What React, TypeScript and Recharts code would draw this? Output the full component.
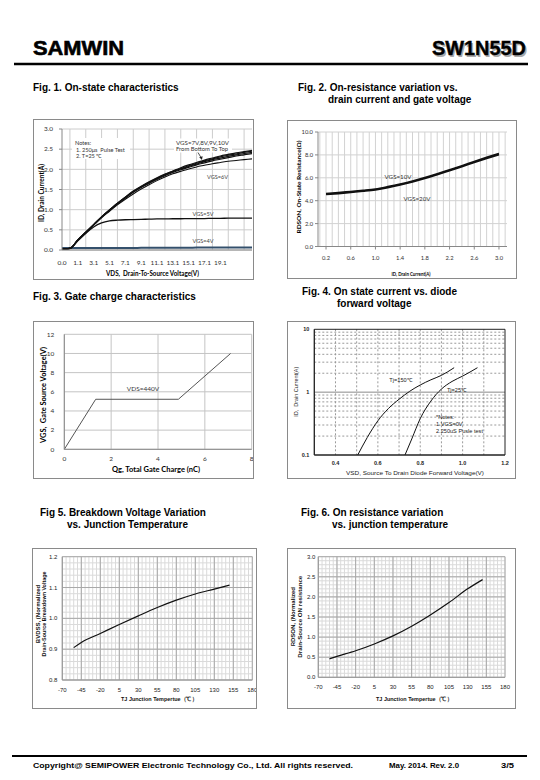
import React from 'react';
import { LineChart, Line, XAxis, YAxis, CartesianGrid, ReferenceArea } from 'recharts';

const ARIAL = '"Liberation Sans", Arial, Helvetica, sans-serif';
const CAL = 'Lato, "Liberation Sans", sans-serif';

// ---------- Fig 1: On-state characteristics ----------
const vdsCategories = ['0.0', '0.6', '1.1', '2.1', '3.1', '4.1', '5.1', '6.1', '7.1', '8.1', '9.1', '10.1', '11.1', '12.1', '13.1', '14.1', '15.1', '16.1', '17.1', '18.1', '19.1', '20.1', '21.1', '22.1', '23.1'];
const vdsTickLabels = ['0.0', '1.1', '3.1', '5.1', '7.1', '9.1', '11.1', '13.1', '15.1', '17.1', '19.1'];
const vdsGridCategories = ['0.6', '2.1', '4.1', '6.1', '8.1', '10.1', '12.1', '14.1', '16.1', '18.1', '20.1', '22.1'];
const idTicks = [0, 0.5, 1.0, 1.5, 2.0, 2.5, 3.0];
const idVgs10 = [0.02, 0.04, 0.25, 0.44, 0.63, 0.82, 0.99, 1.16, 1.31, 1.46, 1.58, 1.69, 1.79, 1.88, 1.96, 2.04, 2.11, 2.17, 2.23, 2.28, 2.33, 2.37, 2.41, 2.44, 2.47];
const idVgs9 = [0.02, 0.04, 0.25, 0.44, 0.63, 0.82, 0.99, 1.16, 1.31, 1.45, 1.57, 1.68, 1.78, 1.87, 1.95, 2.02, 2.09, 2.15, 2.21, 2.26, 2.31, 2.35, 2.38, 2.42, 2.45];
const idVgs8 = [0.02, 0.04, 0.25, 0.44, 0.63, 0.82, 0.99, 1.15, 1.3, 1.44, 1.56, 1.67, 1.77, 1.86, 1.94, 2.01, 2.07, 2.13, 2.19, 2.24, 2.28, 2.32, 2.36, 2.39, 2.42];
const idVgs7 = [0.02, 0.04, 0.24, 0.43, 0.62, 0.81, 0.98, 1.14, 1.29, 1.43, 1.55, 1.65, 1.75, 1.84, 1.92, 1.99, 2.05, 2.11, 2.16, 2.21, 2.25, 2.29, 2.33, 2.36, 2.39];
const idVgs6 = [0.02, 0.04, 0.24, 0.43, 0.62, 0.8, 0.96, 1.12, 1.26, 1.39, 1.51, 1.62, 1.72, 1.81, 1.89, 1.95, 2.01, 2.06, 2.1, 2.14, 2.17, 2.2, 2.22, 2.24, 2.26];
const idVgs5 = [0.02, 0.04, 0.23, 0.41, 0.57, 0.67, 0.72, 0.74, 0.75, 0.755, 0.76, 0.765, 0.77, 0.77, 0.775, 0.775, 0.78, 0.78, 0.78, 0.785, 0.785, 0.79, 0.79, 0.79, 0.79];
const idVgs4 = [0.05, 0.05, 0.05, 0.05, 0.05, 0.05, 0.05, 0.05, 0.05, 0.05, 0.055, 0.055, 0.055, 0.055, 0.055, 0.055, 0.055, 0.06, 0.06, 0.06, 0.06, 0.06, 0.06, 0.06, 0.06];

// ---------- Fig 2: On-resistance vs drain current ----------
const drainCurrent = [0.2, 0.4, 0.6, 0.8, 1.0, 1.2, 1.4, 1.6, 1.8, 2.0, 2.2, 2.4, 2.6, 2.8, 3.0];
const rdsVgs10 = [4.62, 4.7, 4.8, 4.9, 5.02, 5.22, 5.45, 5.72, 6.02, 6.35, 6.7, 7.05, 7.42, 7.78, 8.12];
const rdsVgs20 = [4.55, 4.63, 4.73, 4.83, 4.95, 5.14, 5.38, 5.65, 5.95, 6.28, 6.63, 6.98, 7.35, 7.7, 8.03];
const fig2XTicks = [0.2, 0.6, 1.0, 1.4, 1.8, 2.2, 2.6, 3.0];
const fig2YTicks = [0, 2, 4, 6, 8, 10];

// ---------- Fig 3: Gate charge ----------
const gateCharge = [0, 1.34, 4.87, 7.1];
const gateVoltage = [0, 5.22, 5.22, 10.0];
const fig3XTicks = [0, 2, 4, 6, 8];
const fig3YTicks = [0, 2, 4, 6, 8, 10, 12];

// ---------- Fig 4: Diode forward voltage ----------
const vsd150 = [0.505, 0.55, 0.6, 0.65, 0.7, 0.75, 0.8, 0.85, 0.9, 0.96];
const isd150 = [0.1, 0.19, 0.35, 0.55, 0.77, 1.03, 1.3, 1.57, 1.85, 2.45];
const vsd25 = [0.728, 0.76, 0.8, 0.85, 0.9, 0.95, 1.0, 1.07];
const isd25 = [0.1, 0.18, 0.38, 0.72, 1.12, 1.48, 1.8, 2.45];
const fig4XTicks = [0.4, 0.6, 0.8, 1.0, 1.2];
const fig4YTicks = [0.1, 1, 10];
const fig4VGrid = [0.4, 0.5, 0.6, 0.7, 0.8, 0.9, 1.0, 1.1];
const fig4HGrid = [0.2, 0.3, 0.4, 0.5, 0.6, 0.7, 0.8, 0.9, 2, 3, 4, 5, 6, 7, 8, 9];

// ---------- Fig 5 / Fig 6: vs junction temperature ----------
const tjTicks = [-70, -45, -20, 5, 30, 55, 80, 105, 130, 155, 180];
const tjBv = [-55, -45, -20, 5, 30, 55, 80, 105, 130, 150];
const bvdssNorm = [0.905, 0.922, 0.951, 0.98, 1.008, 1.035, 1.059, 1.079, 1.095, 1.108];
const bvTicks = [0.8, 0.9, 1.0, 1.1, 1.2];
const tjRds = [-55, -45, -20, 5, 30, 55, 80, 105, 130, 150];
const rdsonNorm = [0.46, 0.52, 0.66, 0.83, 1.03, 1.27, 1.55, 1.86, 2.2, 2.43];
const rdsTicks = [0, 0.5, 1.0, 1.5, 2.0, 2.5, 3.0];

// tables built from the arrays
const fig1Data = vdsCategories.map((v, i) => ({
  vds: v, v10: idVgs10[i], v9: idVgs9[i], v8: idVgs8[i], v7: idVgs7[i], v6: idVgs6[i], v5: idVgs5[i], v4: idVgs4[i],
}));
const fig2Data = drainCurrent.map((x, i) => ({ id: x, r10: rdsVgs10[i], r20: rdsVgs20[i] }));
const fig3Data = gateCharge.map((q, i) => ({ qg: q, vgs: gateVoltage[i] }));
const fig4Data = [
  ...vsd150.map((v, i) => ({ vsd: v, t150: isd150[i] } as any)),
  ...vsd25.map((v, i) => ({ vsd: v, t25: isd25[i] } as any)),
].sort((a, b) => a.vsd - b.vsd);
const fig5Data = tjBv.map((t, i) => ({ tj: t, bv: bvdssNorm[i] }));
const fig6Data = tjRds.map((t, i) => ({ tj: t, r: rdsonNorm[i] }));

const steps = (from: number, to: number, step: number, digits: number) => {
  const out: number[] = [];
  for (let v = from; v <= to + step / 2; v += step) out.push(Number(v.toFixed(digits)));
  return out;
};
const fig2VGrid = steps(0.1, 3.1, 0.1, 1);
const tjMinor = steps(-70, 180, 5, 0);
const bvMinor = steps(0.8, 1.2, 0.02, 2);
const rdsMinor = steps(0, 3, 0.1, 1);

// grid line generators: map data values through the axis' own scale
const applyScale = (axis: any, v: any): number => {
  const s = axis && axis.scale;
  if (!s) return NaN;
  const r = typeof s === 'function' ? s(v) : typeof s.map === 'function' ? s.map(v) : NaN;
  const bw = typeof s.bandwidth === 'function' ? s.bandwidth() / 2 : 0;
  return Number(r) + bw;
};
const vGen = (vals: any[]) => ({ xAxis }: any) => vals.map((v) => applyScale(xAxis, v)).filter((n) => Number.isFinite(n));
const hGen = (vals: any[]) => ({ yAxis }: any) => vals.map((v) => applyScale(yAxis, v)).filter((n) => Number.isFinite(n));

const box = (x: number, y: number, w: number, h: number): React.CSSProperties => ({
  position: 'absolute', left: x, top: y, width: w, height: h,
});

type TProps = {
  x: number; y: number; s: number; text: string; anchor?: 'start' | 'middle' | 'end';
  bold?: boolean; fam?: string; fill?: string; rot?: boolean; len?: number;
};
const T = ({ x, y, s, text, anchor = 'start', bold = false, fam = ARIAL, fill = '#000', rot = false, len }: TProps) => (
  <text
    x={rot ? 0 : x}
    y={rot ? 0 : y}
    transform={rot ? `translate(${x},${y}) rotate(-90)` : undefined}
    fontSize={s}
    fontFamily={fam}
    fontWeight={bold ? 'bold' : 'normal'}
    fill={fill}
    textAnchor={rot ? 'middle' : anchor}
    dominantBaseline="central"
    style={{ whiteSpace: 'pre' }}
    textLength={len}
    lengthAdjust={len ? 'spacingAndGlyphs' : undefined}
  >
    {text}
  </text>
);

const calTick = (s: number) => ({ fontSize: s, fill: '#333', fontFamily: CAL });
const arialTick = (s: number, bold = false) => ({ fontSize: s, fill: '#222', fontFamily: ARIAL, fontWeight: bold ? 'bold' : 'normal' });

export default function App() {
  return (
    <div style={{ position: 'absolute', left: 0, top: 0, width: 540, height: 780, background: '#fff', overflow: 'hidden' }}>
      {/* Fig 1 */}
      <div style={box(34, 119, 220, 160)}>
        <LineChart width={220} height={160} data={fig1Data} margin={{ top: 10, right: 2, left: 0, bottom: 0 }}>
          <CartesianGrid verticalCoordinatesGenerator={vGen(vdsGridCategories)}
            horizontalCoordinatesGenerator={hGen(idTicks)} stroke="#cccccc" />
          <XAxis dataKey="vds" type="category" interval={1} height={29} tick={calTick(6.5)}
            tickFormatter={(v: string) => (vdsTickLabels.includes(v) ? v : '')}
            tickLine={false} tickSize={4} tickMargin={6.5} axisLine={{ stroke: '#888' }} />
          <YAxis type="number" domain={[0, 3]} ticks={idTicks} interval={0} width={28} tick={calTick(6.5)}
            tickFormatter={(v: number) => v.toFixed(1)} tickSize={3} tickMargin={6}
            tickLine={{ stroke: '#888' }} axisLine={{ stroke: '#888' }} />
          <Line dataKey="v4" type="monotone" stroke="#34506c" strokeWidth={2} dot={false} isAnimationActive={false} />
          <Line dataKey="v5" type="monotone" stroke="#111" strokeWidth={1.3} dot={false} isAnimationActive={false} />
          <Line dataKey="v6" type="monotone" stroke="#111" strokeWidth={1.1} dot={false} isAnimationActive={false} />
          <Line dataKey="v7" type="monotone" stroke="#111" strokeWidth={1.2} dot={false} isAnimationActive={false} />
          <Line dataKey="v8" type="monotone" stroke="#111" strokeWidth={1.2} dot={false} isAnimationActive={false} />
          <Line dataKey="v9" type="monotone" stroke="#111" strokeWidth={1.2} dot={false} isAnimationActive={false} />
          <Line dataKey="v10" type="monotone" stroke="#111" strokeWidth={1.2} dot={false} isAnimationActive={false} />
        </LineChart>
      </div>

      {/* Fig 2 */}
      <div style={box(287, 120, 230, 159)}>
        <LineChart width={230} height={159} data={fig2Data} margin={{ top: 12, right: 10, left: 0, bottom: 0 }}>
          <CartesianGrid verticalCoordinatesGenerator={vGen(fig2VGrid)}
            horizontalCoordinatesGenerator={hGen(fig2YTicks)} stroke="#d2d2d2" />
          <XAxis dataKey="id" type="number" domain={[0.07, 3.13]} ticks={fig2XTicks} interval={0} height={32.5}
            tick={calTick(5.8)} tickFormatter={(v: number) => v.toFixed(1)} tickSize={3} tickMargin={6}
            tickLine={{ stroke: '#888' }} axisLine={{ stroke: '#888' }} allowDataOverflow />
          <YAxis type="number" domain={[0, 10]} ticks={fig2YTicks} interval={0} width={31} tick={calTick(5.8)}
            tickFormatter={(v: number) => v.toFixed(1)} tickSize={3} tickMargin={2}
            tickLine={{ stroke: '#888' }} axisLine={{ stroke: '#888' }} />
          <Line dataKey="r20" type="monotone" stroke="#111" strokeWidth={1.8} dot={false} isAnimationActive={false} />
          <Line dataKey="r10" type="monotone" stroke="#111" strokeWidth={1.8} dot={false} isAnimationActive={false} />
        </LineChart>
      </div>

      {/* Fig 3 */}
      <div style={box(33, 321, 220, 158)}>
        <LineChart width={220} height={158} data={fig3Data} margin={{ top: 13.3, right: 1.3, left: 0, bottom: 0 }}>
          <CartesianGrid verticalCoordinatesGenerator={vGen(fig3XTicks)}
            horizontalCoordinatesGenerator={hGen(fig3YTicks)} stroke="#c4c4c4" />
          <XAxis dataKey="qg" type="number" domain={[0, 8]} ticks={fig3XTicks} interval={0} height={29.7}
            tick={calTick(6.5)} tickLine={false} tickSize={0} tickMargin={7.5} axisLine={{ stroke: '#888' }} />
          <YAxis type="number" domain={[0, 12]} ticks={fig3YTicks} interval={0} width={31.3} tick={calTick(6.5)}
            tickLine={false} tickSize={0} tickMargin={10} axisLine={{ stroke: '#888' }} />
          <Line dataKey="vgs" type="linear" stroke="#555" strokeWidth={1} dot={false} isAnimationActive={false} />
        </LineChart>
      </div>

      {/* Fig 4 */}
      <div style={box(287, 321, 229, 158)}>
        <LineChart width={229} height={158} data={fig4Data} margin={{ top: 8.3, right: 11, left: 0, bottom: 0 }}>
          <CartesianGrid verticalCoordinatesGenerator={vGen(fig4VGrid)}
            horizontalCoordinatesGenerator={hGen(fig4HGrid)} stroke="#9a9a9a" strokeDasharray="2 2" />
          <CartesianGrid vertical={false} horizontalCoordinatesGenerator={hGen([1])} stroke="#8a8a8a" />
          <XAxis dataKey="vsd" type="number" domain={[0.3, 1.2]} ticks={fig4XTicks} interval={0} height={24}
            tick={arialTick(5.5, true)} tickFormatter={(v: number) => v.toFixed(1)} tickLine={false}
            tickSize={0} tickMargin={5.7} axisLine={{ stroke: '#222' }} allowDataOverflow />
          <YAxis type="number" scale="log" domain={[0.1, 10]} ticks={fig4YTicks} interval={0} width={27.3}
            tick={arialTick(5.5, true)} tickFormatter={(v: number) => String(v)} tickLine={false}
            tickSize={0} tickMargin={5} axisLine={{ stroke: '#222' }} allowDataOverflow />
          <ReferenceArea x1={0.3} x2={1.2} y1={0.1} y2={10} fill="none" stroke="#222" strokeWidth={1} ifOverflow="visible" />
          <Line dataKey="t150" type="monotone" connectNulls stroke="#111" strokeWidth={1} dot={false} isAnimationActive={false} />
          <Line dataKey="t25" type="monotone" connectNulls stroke="#111" strokeWidth={1} dot={false} isAnimationActive={false} />
        </LineChart>
      </div>

      {/* Fig 5 */}
      <div style={box(32, 548, 225, 161)}>
        <LineChart width={225} height={161} data={fig5Data} margin={{ top: 8.7, right: 4.7, left: 0, bottom: 0 }}>
          <CartesianGrid verticalCoordinatesGenerator={vGen(tjMinor)}
            horizontalCoordinatesGenerator={hGen(bvMinor)} stroke="#dadada" />
          <CartesianGrid verticalCoordinatesGenerator={vGen(tjTicks)}
            horizontalCoordinatesGenerator={hGen(bvTicks)} stroke="#a8a8a8" />
          <XAxis dataKey="tj" type="number" domain={[-70, 180]} ticks={tjTicks} interval={0} height={29}
            tick={arialTick(6)} tickLine={false} tickSize={0} tickMargin={7.5} axisLine={{ stroke: '#999' }} />
          <YAxis type="number" domain={[0.8, 1.2]} ticks={bvTicks} interval={0} width={30.3} tick={arialTick(6)}
            tickFormatter={(v: number) => v.toFixed(1)} tickLine={false} tickSize={0} tickMargin={5}
            axisLine={{ stroke: '#999' }} />
          <Line dataKey="bv" type="monotone" stroke="#111" strokeWidth={1.2} dot={false} isAnimationActive={false} />
        </LineChart>
      </div>

      {/* Fig 6 */}
      <div style={box(287, 548, 229, 161)}>
        <LineChart width={229} height={161} data={fig6Data} margin={{ top: 8.7, right: 11, left: 0, bottom: 0 }}>
          <CartesianGrid verticalCoordinatesGenerator={vGen(tjMinor)}
            horizontalCoordinatesGenerator={hGen(rdsMinor)} stroke="#dadada" />
          <CartesianGrid verticalCoordinatesGenerator={vGen(tjTicks)}
            horizontalCoordinatesGenerator={hGen(rdsTicks)} stroke="#a8a8a8" />
          <XAxis dataKey="tj" type="number" domain={[-70, 180]} ticks={tjTicks} interval={0} height={31.7}
            tick={arialTick(6)} tickLine={false} tickSize={0} tickMargin={7} axisLine={{ stroke: '#999' }} />
          <YAxis type="number" domain={[0, 3]} ticks={rdsTicks} interval={0} width={31.3} tick={arialTick(6)}
            tickFormatter={(v: number) => v.toFixed(1)} tickLine={false} tickSize={0} tickMargin={3}
            axisLine={{ stroke: '#999' }} />
          <Line dataKey="r" type="monotone" stroke="#111" strokeWidth={1.2} dot={false} isAnimationActive={false} />
        </LineChart>
      </div>

      {/* Overlay: page text, frames, annotations */}
      <svg width={540} height={780} style={{ position: 'absolute', left: 0, top: 0, pointerEvents: 'none' }}>
        {/* header */}
        <text x={33} y={55} fontSize={20} fontFamily={ARIAL} fontWeight="bold" stroke="#000" strokeWidth={0.6}
          textLength={91} lengthAdjust="spacingAndGlyphs">SAMWIN</text>
        <text x={433.5} y={56.5} fontSize={21} fontFamily={ARIAL} fontWeight="bold" fill="#aaa"
          textLength={94} lengthAdjust="spacingAndGlyphs">SW1N55D</text>
        <text x={432} y={55} fontSize={21} fontFamily={ARIAL} fontWeight="bold" stroke="#000" strokeWidth={0.4}
          textLength={94} lengthAdjust="spacingAndGlyphs">SW1N55D</text>
        <line x1={14} y1={64} x2={528} y2={64} stroke="#000" strokeWidth={2.4} />

        {/* titles */}
        <T x={33} y={87} s={10} bold text="Fig. 1. On-state characteristics" />
        <T x={298} y={87} s={10} bold text="Fig. 2. On-resistance variation vs." />
        <T x={328} y={99} s={10} bold text="drain current and gate voltage" />
        <T x={33} y={296.5} s={10} bold text="Fig. 3. Gate charge characteristics" />
        <T x={302} y={291.5} s={10} bold text="Fig. 4. On state current vs. diode" />
        <T x={337} y={303.5} s={10} bold text="forward voltage" />
        <T x={40} y={512.5} s={10} bold text="Fig 5. Breakdown Voltage Variation" />
        <T x={67} y={524.5} s={10} bold text="vs. Junction Temperature" />
        <T x={301} y={512.5} s={10} bold text="Fig. 6. On resistance variation" />
        <T x={332} y={524.5} s={10} bold text="vs. junction temperature" />

        {/* frames */}
        <rect x={33.5} y={119.5} width={220} height={160} fill="none" stroke="#8a8a8a" />
        <rect x={287.5} y={120.5} width={229} height={158} fill="none" stroke="#8a8a8a" />
        <rect x={33.5} y={321.5} width={220} height={157} fill="none" stroke="#8a8a8a" />
        <rect x={287.5} y={321.5} width={228} height={157} fill="none" stroke="#8a8a8a" />
        <rect x={32.5} y={548.5} width={224} height={160} fill="none" stroke="#8a8a8a" />
        <rect x={287.5} y={548.5} width={228} height={160} fill="none" stroke="#8a8a8a" />

        {/* Fig 1 labels */}
        <T x={41} y={193} s={6.8} bold fam={CAL} rot text="ID, Drain Current(A)" len={58} />
        <T x={152.5} y={272.7} s={6.6} bold fam={CAL} anchor="middle" text="VDS,  Drain-To-Source Voltage(V)" len={93} />
        <rect x={72} y={138} width={58} height={21} fill="#fff" />
        <T x={75} y={142.7} s={5.6} fam={CAL} fill="#333" text="Notes:" />
        <T x={76} y={149} s={5.6} fam={CAL} fill="#333" text="1. 250μs  Pulse Test" />
        <T x={76} y={155.2} s={5.6} fam={CAL} fill="#333" text="2. T=25 ℃" />
        <rect x={174} y={138.5} width={58} height={14} fill="#fff" />
        <T x={176} y={142.5} s={5.2} fam={CAL} fill="#333" text="VGS=7V,8V,9V,10V" len={53} />
        <T x={176} y={149} s={5.2} fam={CAL} fill="#333" text="From Bottom To Top" len={52} />
        <line x1={198} y1={152.5} x2={201} y2={157.5} stroke="#222" strokeWidth={0.8} />
        <polygon points="199.2,157.2 202.6,156.2 202,160" fill="#222" />
        <T x={217.5} y={176} s={5.6} fam={CAL} fill="#444" anchor="middle" text="VGS=6V" />
        <T x={203} y={213} s={5.6} fam={CAL} fill="#444" anchor="middle" text="VGS=5V" />
        <T x={203} y={240.7} s={5.6} fam={CAL} fill="#444" anchor="middle" text="VGS=4V" />

        {/* Fig 2 labels */}
        <T x={298.3} y={187} s={5.8} bold fam={CAL} rot text="RDSON, On-State Resistance(Ω)" len={93} />
        <T x={411} y={273.3} s={5.8} bold fam={CAL} anchor="middle" text="ID, Drain Current(A)" len={39} />
        <T x={398} y={176} s={6.2} fam={CAL} fill="#333" anchor="middle" text="VGS=10V" />
        <T x={417} y={198.3} s={6.2} fam={CAL} fill="#333" anchor="middle" text="VGS=20V" />

        {/* Fig 3 labels */}
        <T x={43.3} y={395} s={7} bold fam={CAL} rot text="VGS,  Gate Source Voltage(V)" len={96} />
        <T x={156} y={469.3} s={6.6} bold fam={CAL} anchor="middle" text="Qg, Total Gate Charge (nC)" len={88} />
        <T x={143} y={388.3} s={6.5} fam={CAL} fill="#333" anchor="middle" text="VDS=440V" />

        {/* Fig 4 labels */}
        <T x={296} y={391.7} s={6} rot text="ID,  Drain Current(A)" len={50} fill="#222" />
        <T x={415} y={472.7} s={6} anchor="middle" text="VSD, Source To Drain Diode Forward Voltage(V)" len={138} fill="#222" />
        <T x={401} y={380} s={5.6} anchor="middle" text="Tj=150℃" fill="#222" />
        <T x={457} y={390} s={5.6} anchor="middle" text="Tj=25℃" fill="#222" />
        <T x={436} y={416.7} s={5.6} text="*Notes:" fill="#222" />
        <T x={436} y={423.5} s={5.6} text="1.VGS=0V" fill="#222" />
        <T x={436} y={431} s={5.6} text="2.250uS Pusle test" fill="#222" />

        {/* Fig 5 labels */}
        <T x={37.7} y={614} s={6} bold rot text="BVDSS, (Normalized" fill="#111" />
        <T x={43.7} y={614} s={6} bold rot text="Drain-Source Breakdown Voltage" len={85} fill="#111" />
        <T x={159} y={699.3} s={6} bold anchor="middle" text="TJ Junction Tempertue（℃）" len={76} fill="#111" />

        {/* Fig 6 labels */}
        <T x={293.3} y={616.7} s={6} bold rot text="RDSON, (Normalized" fill="#111" />
        <T x={299.5} y={616.7} s={6} bold rot text="Drain-Source ON resistance" len={82} fill="#111" />
        <T x={414} y={699} s={6} bold anchor="middle" text="TJ Junction Tempertue（℃）" len={76} fill="#111" />

        {/* footer */}
        <line x1={12} y1={756} x2={527} y2={756} stroke="#000" strokeWidth={2.2} />
        <T x={33} y={765} s={8} bold text="Copyright@ SEMIPOWER Electronic Technology Co., Ltd. All rights reserved." len={320} />
        <T x={389} y={765} s={8} bold text="May. 2014. Rev. 2.0" len={70} />
        <T x={501} y={765} s={8} bold text="3/5" len={13} />
      </svg>
    </div>
  );
}
